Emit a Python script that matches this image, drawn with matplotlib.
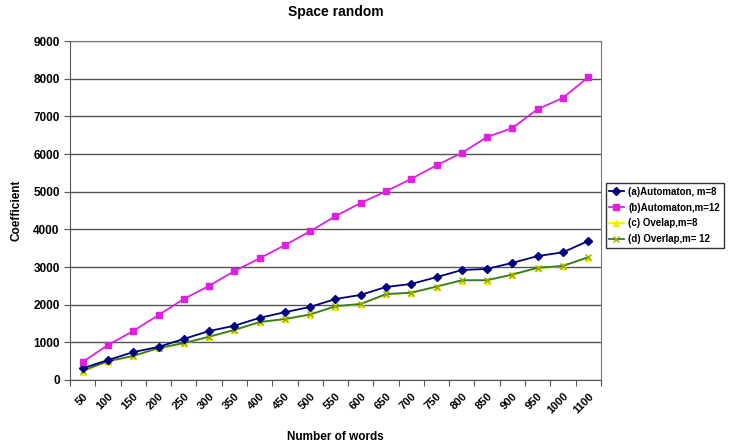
import matplotlib
matplotlib.use("Agg")
import matplotlib.pyplot as plt
import matplotlib.ticker as mticker
import matplotlib.transforms as mtransforms

plt.rcParams["font.family"] = ["Liberation Sans", "DejaVu Sans"]

# x categories (Number of words)
words = ["50", "100", "150", "200", "250", "300", "350", "400", "450", "500",
         "550", "600", "650", "700", "750", "800", "850", "900", "950", "1000", "1100"]

auto_m8 = [310, 530, 740, 880, 1090, 1300, 1440, 1650, 1800, 1940, 2150,
           2260, 2470, 2550, 2730, 2920, 2950, 3110, 3290, 3390, 3690]
auto_m12 = [478, 930, 1300, 1725, 2150, 2500, 2890, 3230, 3580, 3950, 4350,
            4700, 5010, 5340, 5700, 6030, 6450, 6690, 7190, 7490, 8040]
overlap_m8 = [220, 490, 630, 840, 970, 1140, 1320, 1530, 1610, 1730, 1950,
              2010, 2270, 2310, 2470, 2640, 2640, 2790, 2970, 3020, 3250]
overlap_m12 = [250, 500, 640, 850, 980, 1150, 1330, 1540, 1620, 1740, 1960,
               2020, 2280, 2320, 2480, 2650, 2650, 2800, 2980, 3030, 3260]

fig = plt.figure(figsize=(7.3, 4.46), dpi=100)
ax = fig.add_axes([0.096, 0.148, 0.727, 0.76])

x = list(range(len(words)))
ax.plot(x, auto_m8, color="#000080", marker="D", markersize=4, linewidth=1.3,
        label="(a)Automaton, m=8", zorder=4)
ax.plot(x, auto_m12, color="#E020E0", marker="s", markersize=4, linewidth=1.3,
        label="(b)Automaton,m=12", zorder=4)
ax.plot(x, overlap_m8, color="#F0F000", marker="^", markersize=5, linewidth=1.3,
        label="(c) Ovelap,m=8", zorder=3)
ax.plot(x, overlap_m12, color="#2E7D32", marker="x", markersize=5, linewidth=1.3,
        markeredgecolor="#9AA800", label="(d) Overlap,m= 12", zorder=3)

ax.set_xlim(-0.5, len(words) - 0.5)
ax.set_ylim(0, 9000)
ax.yaxis.set_major_locator(mticker.MultipleLocator(1000))
ax.grid(axis="y", color="#555555", linewidth=1.0)
ax.set_axisbelow(True)

# tick marks between categories, labels at category centres
ax.set_xticks([i - 0.5 for i in range(len(words) + 1)])
ax.set_xticklabels([])
ax.set_xticks(x, minor=True)
ax.set_xticklabels(words, minor=True, rotation=45, ha="right",
                   rotation_mode="anchor", fontsize=8, fontweight="bold")
shift = mtransforms.ScaledTranslation(-6 / 72, -2 / 72, fig.dpi_scale_trans)
for lbl in ax.get_xticklabels(minor=True):
    lbl.set_transform(lbl.get_transform() + shift)
ax.tick_params(axis="x", which="minor", length=0, pad=8)
ax.tick_params(axis="x", which="major", length=4, direction="out", color="#555555")
ax.tick_params(axis="y", length=4, color="#555555", labelsize=8.5)
for lbl in ax.get_yticklabels():
    lbl.set_fontweight("bold")

for side in ("top", "right"):
    ax.spines[side].set_color("#777777")
for side in ("left", "bottom"):
    ax.spines[side].set_color("#555555")

ax.set_title("Space random", fontsize=10, fontweight="bold", pad=18)
ax.set_xlabel("Number of words", fontsize=8.5, fontweight="bold", labelpad=11)
ax.set_ylabel("Coefficient", fontsize=8.5, fontweight="bold", labelpad=8)

leg = ax.legend(loc="upper left", bbox_to_anchor=(1.009, 0.58), fontsize=7,
                frameon=True, fancybox=False, edgecolor="black",
                handlelength=1.5, handletextpad=0.5, borderpad=0.35,
                labelspacing=0.6, borderaxespad=0)
leg.get_frame().set_linewidth(1.0)
for t in leg.get_texts():
    t.set_fontweight("bold")

fig.savefig("out.png", dpi=100)
